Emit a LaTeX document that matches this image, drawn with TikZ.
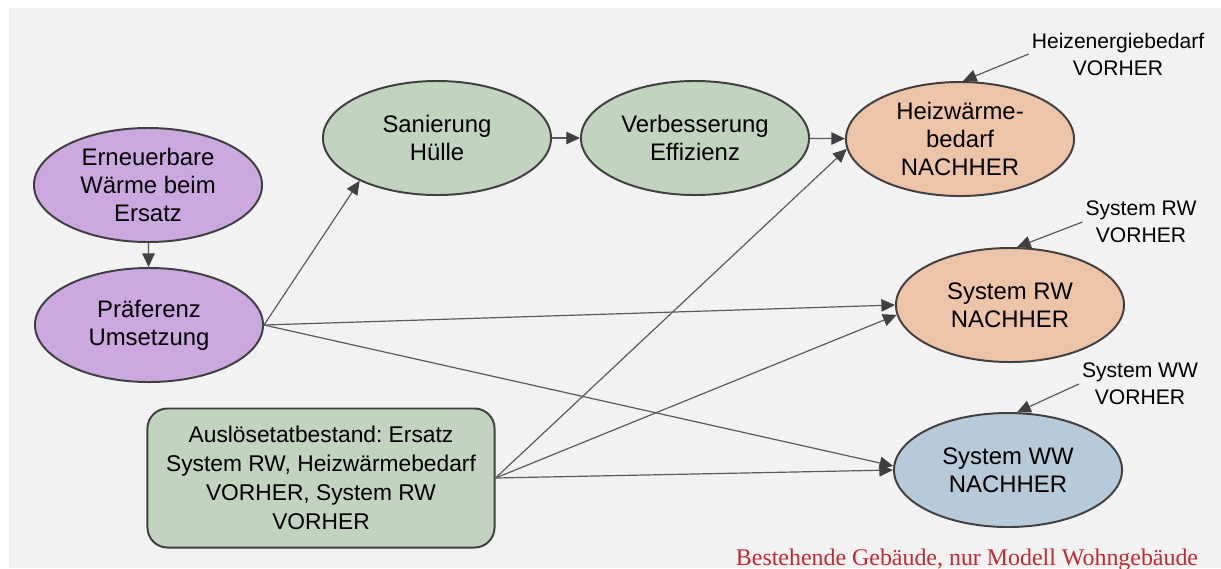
\documentclass[tikz,border=0pt]{standalone}
\usepackage{fontspec}
\setmainfont{Liberation Sans}
\newfontfamily\redserif{Liberation Serif}
\usepackage{xcolor}
\usepackage{tikz}
\usetikzlibrary{shapes,arrows.meta,positioning}
\frenchspacing

\definecolor{bggray}{RGB}{242,242,242}
\definecolor{rimgray}{RGB}{64,64,64}
\definecolor{edgegray}{RGB}{90,90,90}
\definecolor{lilac}{RGB}{203,168,224}
\definecolor{sage}{RGB}{192,212,190}
\definecolor{peach}{RGB}{237,196,168}
\definecolor{steel}{RGB}{183,202,218}
\definecolor{notered}{RGB}{192,40,52}

\begin{document}
\begin{tikzpicture}[
    x=0.025cm, y=-0.025cm,
    bubble/.style={ellipse, draw=rimgray, line width=1.4pt, fill=#1, minimum width=5.7cm, minimum height=2.85cm, inner sep=0pt, align=center, font=\fontsize{17}{20}\selectfont},
    trigger/.style={rectangle, draw=rimgray, line width=1.4pt, fill=sage, rounded corners=0.5cm, minimum width=8.675cm, minimum height=3.475cm, inner sep=0pt, align=center, font=\fontsize{16.2}{20.6}\selectfont},
    note/.style={align=center, inner sep=2pt, font=\fontsize{15}{19.2}\selectfont},
    link/.style={draw=edgegray, line width=0.85pt, -{Triangle[length=0.34cm, width=0.31cm, color=rimgray]}},
]

\useasboundingbox (0,0) rectangle (1221,568);
\fill[bggray] (9,8) rectangle (1221,568);

\node[bubble=lilac] (erneuer) at (148,185) {Erneuerbare\\Wärme beim\\Ersatz};
\node[bubble=lilac] (praef) at (149,325) {Präferenz\\Umsetzung};

\node[bubble=sage] (sanier) at (437,138) {Sanierung\\Hülle};
\node[bubble=sage] (verbess) at (695,138) {Verbesserung\\Effizienz};

\node[bubble=peach] (heizw) at (960,139) {Heizwärme-\\bedarf\\NACHHER};
\node[bubble=peach] (sysrw) at (1010,305) {System RW\\NACHHER};
\node[bubble=steel] (sysww) at (1008,470) {System WW\\NACHHER};

\node[trigger] (ausloese) at (321,478) {Auslösetatbestand: Ersatz\\System RW, Heizwärmebedarf\\VORHER, System RW\\VORHER};

\node[note] (heizvor) at (1118,54) {Heizenergiebedarf\\VORHER};
\node[note] (rwvor) at (1141,222) {System RW\\VORHER};
\node[note] (wwvor) at (1140,384) {System WW\\VORHER};

\node[anchor=base, text=notered, font=\redserif\fontsize{17}{20}\selectfont] (hinweis) at (967,565) {Bestehende Gebäude, nur Modell Wohngebäude};

\draw[link] (erneuer) -- (praef);
\draw[link] (praef.east) -- (sanier.209);
\draw[link] (praef.east) -- (sysrw.west);
\draw[link] (praef.east) -- (sysww.178);
\draw[link] (sanier) -- (verbess);
\draw[link] (verbess) -- (heizw);
\draw[link] (ausloese.east) -- (heizw.185);
\draw[link] (ausloese.east) -- (sysrw.185);
\draw[link] (ausloese.east) -- (sysww.west);

\draw[link] (heizvor.west) -- (heizw.87);
\draw[link] (rwvor.west) -- (sysrw.83);
\draw[link] (wwvor.west) -- (sysww.81);

\end{tikzpicture}
\end{document}
